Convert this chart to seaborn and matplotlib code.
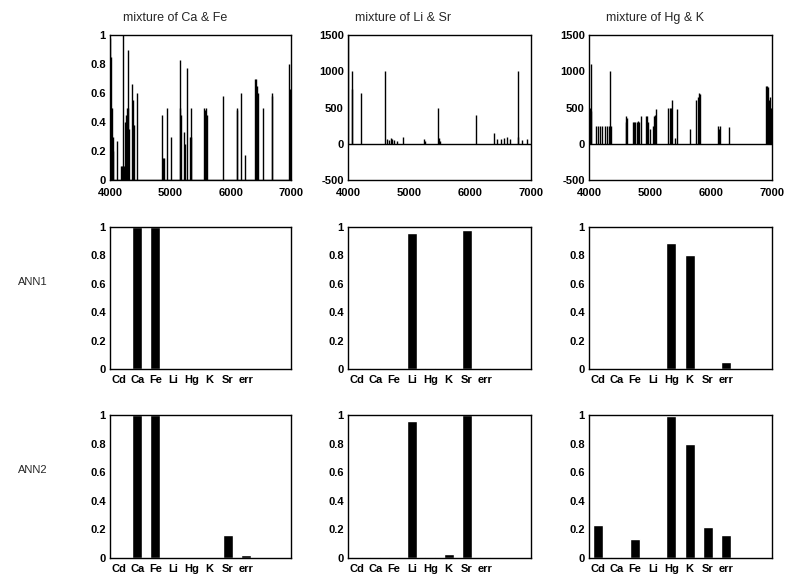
import numpy as np
import pandas as pd
import matplotlib
matplotlib.use("Agg")
import matplotlib.pyplot as plt
import seaborn as sns

# ---------------- data ----------------
elements = ["Cd", "Ca", "Fe", "Li", "Hg", "K", "Sr", "err"]

titles = ["mixture of Ca & Fe", "mixture of Li & Sr", "mixture of Hg & K"]

# spectra (wavelength, intensity)
caf_wl = [4005, 4012, 4020, 4030, 4045, 4055, 4122, 4190, 4200, 4210, 4216, 4240, 4255,
          4270, 4285, 4295, 4305, 4320, 4360, 4375, 4385, 4400, 4443,
          4863, 4880, 4900, 4940, 5013, 5160, 5165, 5170, 5230, 5245, 5270,
          5330, 5340, 5350, 5560, 5575, 5590, 5600, 5870, 6100, 6108, 6170,
          6240, 6400, 6420, 6440, 6460, 6540, 6680, 6690, 6975, 6985]
caf_int = [0.98, 0.85, 0.5, 0.5, 0.3, 0.2, 0.27, 0.1, 0.1, 0.1, 1.0, 0.1, 0.4,
           0.45, 0.5, 0.9, 0.5, 0.35, 0.66, 0.38, 0.55, 0.38, 0.6,
           0.45, 0.15, 0.15, 0.5, 0.3, 0.83, 0.5, 0.45, 0.33, 0.25, 0.77,
           0.3, 0.5, 0.3, 0.5, 0.48, 0.5, 0.45, 0.58, 0.5, 0.48, 0.6,
           0.17, 0.7, 0.7, 0.65, 0.6, 0.5, 0.6, 0.58, 0.8, 0.63]

lisr_wl = [4008, 4066, 4072, 4215, 4600, 4640, 4680, 4700, 4720, 4760, 4800, 4900,
           5240, 5255, 5480, 5490, 5510, 6100, 6390, 6440, 6500, 6560, 6600,
           6660, 6780, 6790, 6860, 6940]
lisr_int = [1550, 750, 1000, 700, 1000, 70, 50, 80, 60, 50, 40, 100,
            60, 40, 500, 80, 40, 400, 150, 70, 60, 80, 100,
            60, 1000, 100, 50, 60]

hgk_wl = [4015, 4025, 4040, 4120, 4150, 4185, 4220, 4255, 4290, 4320, 4340, 4355,
          4600, 4610, 4620, 4720, 4740, 4760, 4780, 4800, 4820, 4860,
          4930, 4950, 4970, 5000, 5050, 5070, 5085, 5100,
          5300, 5320, 5340, 5360, 5410, 5440, 5660, 5760, 5780, 5800, 5815,
          6110, 6130, 6150, 6300, 6905, 6915, 6930, 6945, 6960, 6975, 6990]
hgk_int = [500, 450, 1100, 250, 250, 250, 250, 250, 250, 250, 1000, 250,
           300, 380, 350, 300, 300, 300, 300, 320, 300, 380,
           380, 380, 300, 200, 250, 380, 400, 480,
           500, 500, 500, 600, 80, 480, 200, 600, 650, 700, 680,
           250, 200, 250, 230, 800, 800, 780, 600, 500, 650, 500]

# network outputs
ann1_caf = [0.0, 1.0, 1.0, 0.0, 0.0, 0.0, 0.0, 0.0]
ann1_lisr = [0.01, 0.01, 0.0, 0.96, 0.01, 0.0, 0.98, 0.005]
ann1_hgk = [0.01, 0.0, 0.01, 0.0, 0.89, 0.80, 0.0, 0.05]
ann2_caf = [0.0, 1.0, 1.0, 0.0, 0.0, 0.0, 0.16, 0.02]
ann2_lisr = [0.005, 0.01, 0.005, 0.96, 0.01, 0.025, 1.0, 0.005]
ann2_hgk = [0.23, 0.01, 0.13, 0.0, 0.99, 0.80, 0.22, 0.16]

# ---------------- figure ----------------
sns.set_theme(style="white")
plt.rcParams["font.family"] = ["Liberation Sans", "DejaVu Sans"]
plt.rcParams["axes.unicode_minus"] = False

W, H = 786, 582
fig = plt.figure(figsize=(W / 100, H / 100), dpi=100)
fig.patch.set_facecolor("white")

cols = [(110, 181), (348, 183), (589, 183)]
rows = [(35, 180), (227, 369), (415, 558)]


def make_ax(c, r):
    x0, w = cols[c]
    top, bot = rows[r]
    ax = fig.add_axes([x0 / W, 1 - bot / H, w / W, (bot - top) / H])
    for s in ax.spines.values():
        s.set_visible(True)
        s.set_color("black")
        s.set_linewidth(1.0)
    ax.tick_params(direction="in", length=3, width=0.8, colors="black",
                   labelsize=8, pad=3)
    return ax


def style_labels(ax):
    for lab in ax.get_xticklabels() + ax.get_yticklabels():
        lab.set_fontweight("bold")
        lab.set_fontsize(8)


spectra = [(caf_wl, caf_int), (lisr_wl, lisr_int), (hgk_wl, hgk_int)]
for c, (wl, inten) in enumerate(spectra):
    ax = make_ax(c, 0)
    ax.vlines(wl, 0, inten, colors="black", linewidth=1.0)
    ax.axhline(0, color="black", linewidth=1.0)
    ax.set_xlim(4000, 7000)
    ax.set_xticks([4000, 5000, 6000, 7000])
    ax.tick_params(axis="x", pad=6)
    if c == 0:
        ax.set_ylim(0, 1)
        ax.set_yticks([0, 0.2, 0.4, 0.6, 0.8, 1])
        ax.set_yticklabels(["0", "0.2", "0.4", "0.6", "0.8", "1"])
    else:
        ax.set_ylim(-500, 1500)
        ax.set_yticks([-500, 0, 500, 1000, 1500])
    style_labels(ax)

bar_sets = [[ann1_caf, ann1_lisr, ann1_hgk], [ann2_caf, ann2_lisr, ann2_hgk]]
for r, sets in enumerate(bar_sets, start=1):
    for c, vals in enumerate(sets):
        ax = make_ax(c, r)
        df = pd.DataFrame({"element": elements, "value": vals})
        sns.barplot(data=df, x="element", y="value", order=elements,
                    color="black", width=0.55, saturation=1, ax=ax)
        ax.set_xlim(-0.5, 9.5)
        ax.set_ylim(0, 1)
        ax.set_yticks([0, 0.2, 0.4, 0.6, 0.8, 1])
        ax.set_yticklabels(["0", "0.2", "0.4", "0.6", "0.8", "1"])
        ax.set_xlabel("")
        ax.set_ylabel("")
        ax.tick_params(axis="x", length=0, pad=4)
        style_labels(ax)

title_x = [175, 403, 655]
for t, x in zip(titles, title_x):
    fig.text(x / W, 1 - 18 / H, t, ha="center", va="center", fontsize=9)

fig.text(33 / W, 1 - 282 / H, "ANN1", ha="center", va="center", fontsize=8)
fig.text(33 / W, 1 - 470 / H, "ANN2", ha="center", va="center", fontsize=8)

fig.savefig("out.png", dpi=100, facecolor="white")
